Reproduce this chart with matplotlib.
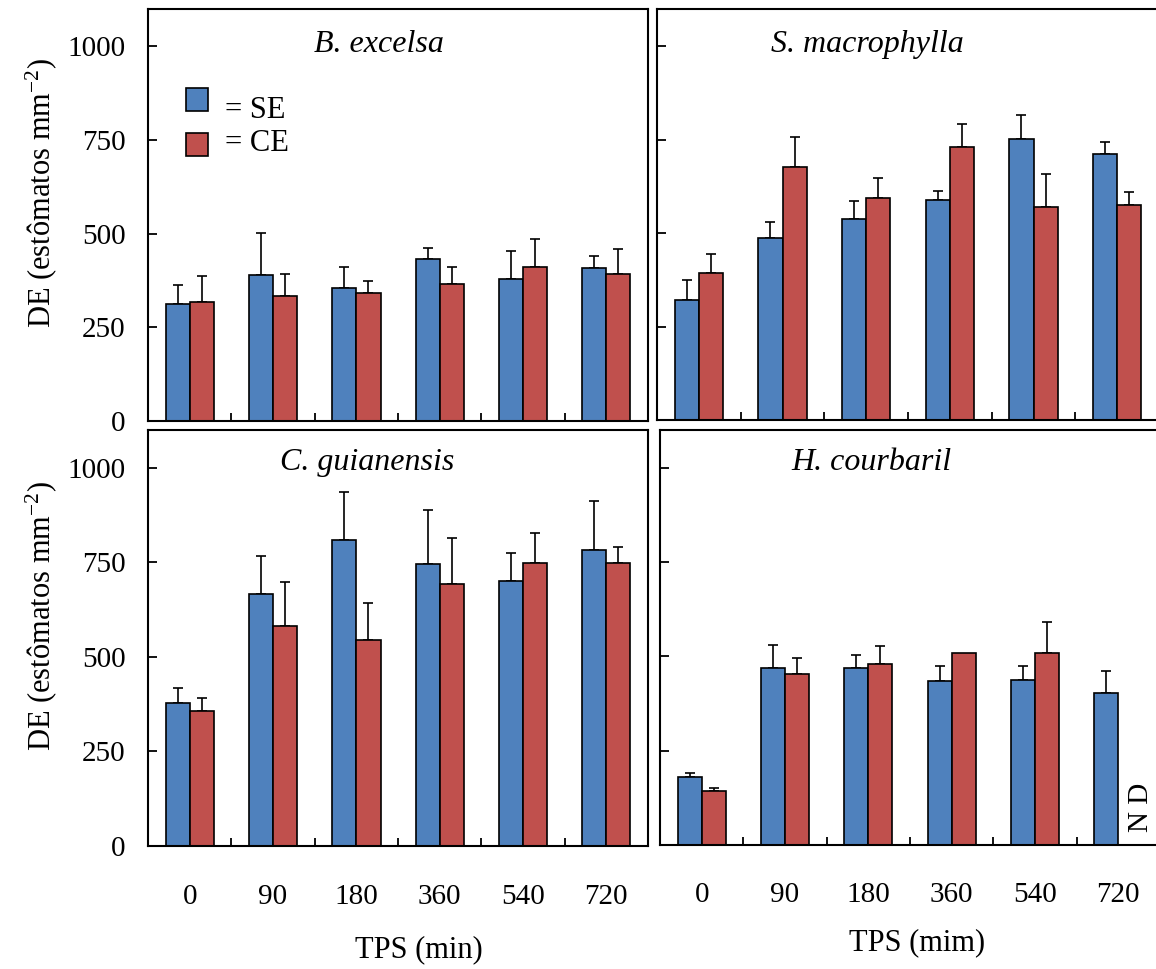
import numpy as np
import matplotlib.pyplot as plt
from matplotlib.patches import Rectangle

plt.rcParams['font.family'] = ['Liberation Serif', 'DejaVu Serif']
plt.rcParams['mathtext.fontset'] = 'custom'
plt.rcParams['mathtext.rm'] = 'Liberation Serif'
plt.rcParams['mathtext.it'] = 'Liberation Serif:italic'

# dados (estômatos mm-2)
tps = ['0', '90', '180', '360', '540', '720']
especies = ['B. excelsa', 'S. macrophylla', 'C. guianensis', 'H. courbaril']

be_se = [313, 389, 356, 432, 379, 409]
be_se_err = [51, 113, 56, 31, 75, 31]
be_ce = [317, 333, 341, 365, 412, 393]
be_ce_err = [71, 59, 32, 47, 75, 67]

sm_se = [321, 486, 539, 590, 753, 712]
sm_se_err = [55, 45, 46, 22, 63, 31]
sm_ce = [394, 676, 594, 730, 571, 575]
sm_ce_err = [50, 82, 53, 63, 87, 36]

cg_se = [377, 666, 810, 745, 702, 782]
cg_se_err = [42, 102, 126, 144, 74, 131]
cg_ce = [358, 581, 544, 693, 749, 749]
cg_ce_err = [33, 117, 98, 121, 79, 42]

hc_se = [180, 470, 470, 434, 438, 402]
hc_se_err = [12, 61, 34, 40, 36, 60]
hc_ce = [144, 452, 479, 509, 509, np.nan]   # 720: N D
hc_ce_err = [8, 43, 48, 0, 81, 0]

azul = '#4F81BD'
verm = '#C0504D'

W, H = 1156, 969
fig = plt.figure(figsize=(W / 100, H / 100), dpi=100)

def box(x0, y0, x1, y1):
    return [x0 / W, 1 - y1 / H, (x1 - x0) / W, (y1 - y0) / H]

axes = [fig.add_axes(box(148, 9, 648, 421)),
        fig.add_axes(box(657, 9, 1159, 420)),
        fig.add_axes(box(148, 430, 648, 846)),
        fig.add_axes(box(660, 430, 1160, 845))]

dados = [(be_se, be_se_err, be_ce, be_ce_err),
         (sm_se, sm_se_err, sm_ce, sm_ce_err),
         (cg_se, cg_se_err, cg_ce, cg_ce_err),
         (hc_se, hc_se_err, hc_ce, hc_ce_err)]
titulo_x = [0.462, 0.419, 0.439, 0.423]
titulo_y = [0.895, 0.895, 0.904, 0.904]

x = np.arange(len(tps))
bw = 0.29
for i, ax in enumerate(axes):
    se, se_err, ce, ce_err = [np.array(d, dtype=float) for d in dados[i]]
    for pos, vals, errs, cor in [(x - bw / 2, se, se_err, azul), (x + bw / 2, ce, ce_err, verm)]:
        ok = ~np.isnan(vals)
        ax.bar(pos[ok], vals[ok], bw, color=cor, edgecolor='black', linewidth=1.2, zorder=2)
        m = ok & (errs > 0)
        ax.errorbar(pos[m], vals[m], yerr=[np.zeros(m.sum()), errs[m]], fmt='none',
                    ecolor='black', elinewidth=1.2, capsize=3.8, capthick=1.2, zorder=1)
    ax.set_xlim(-0.5, 5.5)
    ax.set_ylim(0, 1100)
    ax.set_yticks([0, 250, 500, 750, 1000])
    ax.set_xticks(x)
    ax.set_xticks(x[:-1] + 0.5, minor=True)
    ax.tick_params(axis='x', which='major', length=0, pad=27, labelsize=21)
    ax.tick_params(axis='x', which='minor', direction='in', length=6, width=1.3)
    ax.tick_params(axis='y', direction='in', length=6.5, width=1.3, pad=16, labelsize=21)
    for s in ax.spines.values():
        s.set_linewidth(1.5)
    if i < 2:
        ax.set_xticklabels([])
    else:
        ax.set_xticklabels(tps)
    if i % 2 == 1:
        ax.set_yticklabels([])
    ax.text(titulo_x[i], titulo_y[i], especies[i], transform=ax.transAxes,
            ha='center', va='baseline', fontsize=23, style='italic')

# legenda
ax = axes[0]
ax.add_patch(Rectangle((0.076, 0.752), 0.044, 0.056, transform=ax.transAxes,
                       facecolor=azul, edgecolor='black', linewidth=1.2))
ax.add_patch(Rectangle((0.076, 0.644), 0.044, 0.056, transform=ax.transAxes,
                       facecolor=verm, edgecolor='black', linewidth=1.2))
ax.text(0.154, 0.735, '= SE', transform=ax.transAxes, fontsize=22, va='baseline')
ax.text(0.154, 0.655, '= CE', transform=ax.transAxes, fontsize=22, va='baseline')

axes[3].text(5.27, 100, 'N D', rotation=90, ha='center', va='center', fontsize=21)

ylab = 'DE (estômatos mm$^{-2}$)'
fig.text(41 / W, 1 - 193 / H, ylab, rotation=90, ha='center', va='center', fontsize=22)
fig.text(41 / W, 1 - 616 / H, ylab, rotation=90, ha='center', va='center', fontsize=22)
fig.text(419 / W, 1 - 950 / H, 'TPS (min)', ha='center', va='center', fontsize=22)
fig.text(917 / W, 1 - 943 / H, 'TPS (mim)', ha='center', va='center', fontsize=22)

fig.savefig('out.png', dpi=100)
